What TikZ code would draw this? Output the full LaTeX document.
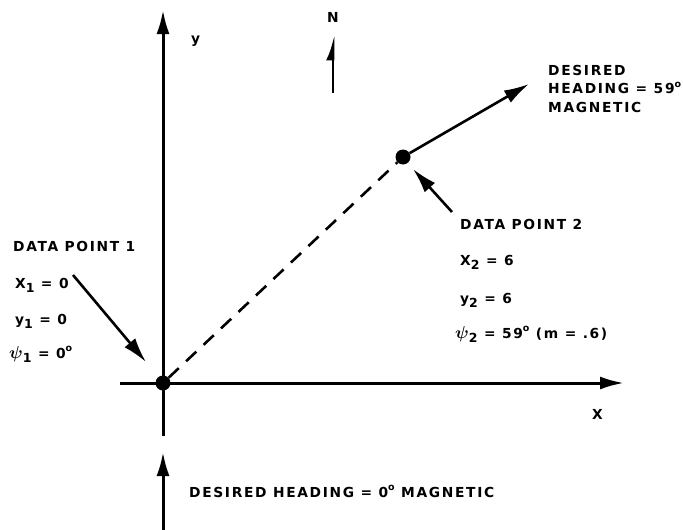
\documentclass[tikz,border=0pt]{standalone}
\usepackage{amsmath}
\usepackage{fontspec}
\setmainfont{DejaVu Sans}[LetterSpace=12]
\usetikzlibrary{positioning,arrows.meta}

\newcommand{\lo}[1]{\raisebox{-0.55ex}{\fontsize{12.5}{13}\selectfont #1}}
\newcommand{\dg}{\raisebox{0.85ex}{\fontsize{9.5}{10}\selectfont o}}
\newcommand{\bigpsi}{{\fontsize{19}{19}\selectfont$\boldsymbol{\psi}$}}

\begin{document}
\begin{tikzpicture}[
    x=1pt, y=-1pt,
    lbl/.style={
        font=\bfseries\fontsize{13.8}{18.5}\selectfont,
        inner sep=0pt,
        anchor=base west
    },
    axis/.style={line width=3pt, -{Latex[length=24pt,width=13pt]}},
    pointer/.style={line width=2.6pt, -{Latex[length=25pt,width=14pt]}},
    dot/.style={circle, fill, inner sep=0pt, minimum size=15pt}
]
    \useasboundingbox (0,0) rectangle (683,530);

    % Data points
    \node[dot] (p1) at (163,383) {};
    \node[dot] (p2) at (403,157) {};

    % Axes
    \coordinate (ybot) at (163,436);
    \coordinate (ytop) at (163,10);
    \coordinate (xleft) at (120,383);
    \coordinate (xright) at (624,383);
    \draw[axis] (ybot) -- (ytop);
    \draw[axis] (xleft) -- (xright);
    \node[lbl] (ylab) at (191,43) {y};
    \node[lbl] (xlab) at (592,419) {X};

    % North
    \coordinate (nbot) at (333,93);
    \coordinate (ntop) at (333,35);
    \draw[line width=2.5pt, -{Latex[left,length=20pt,width=14pt]}] (nbot) -- (ntop);
    \node[lbl, anchor=base] (nlab) at (333,22) {N};

    % Track and headings
    \draw[line width=2.6pt, dash pattern=on 14pt off 10pt] (p1) -- (p2);
    \coordinate (h59) at (529,84);
    \draw[pointer] (p2) -- (h59);
    \node[lbl, anchor=north west, align=left] (h59lab) at (548,65)
        {DESIRED\\HEADING = 59\dg\\MAGNETIC};

    \coordinate (h0bot) at (163,530);
    \coordinate (h0top) at (163,452);
    \draw[axis] (h0bot) -- (h0top);
    \node[lbl] (h0lab) at (189,497) {DESIRED HEADING = 0\dg{} MAGNETIC};

    % Data point 1
    \node[lbl] (dp1) at (13,251) {DATA POINT 1};
    \node[lbl] (x1) at (15,288) {X\lo{1} = 0};
    \node[lbl] (y1) at (15,324) {y\lo{1} = 0};
    \node[lbl] (psi1) at (9,358) {\bigpsi\lo{1} = 0\dg};
    \coordinate (t1) at (73,275);
    \coordinate (a1) at (146,362);
    \draw[pointer] (t1) -- (a1);

    % Data point 2
    \node[lbl] (dp2) at (460,229) {DATA POINT 2};
    \node[lbl] (x2) at (460,265) {X\lo{2} = 6};
    \node[lbl] (y2) at (460,303) {y\lo{2} = 6};
    \node[lbl] (psi2) at (455,338) {\bigpsi\lo{2} = 59\dg{} (m = .6)};
    \coordinate (t2) at (452,212);
    \coordinate (a2) at (413,169);
    \draw[pointer] (t2) -- (a2);
\end{tikzpicture}
\end{document}
